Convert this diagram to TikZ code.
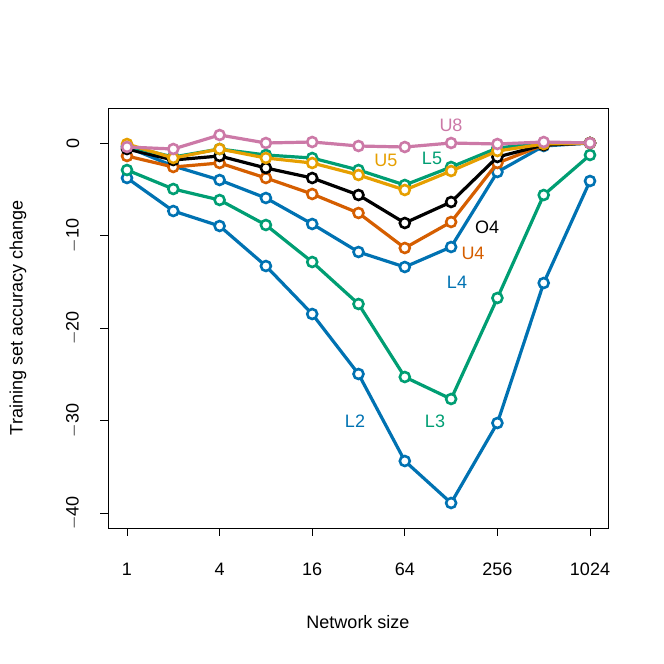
\documentclass[tikz,border=0pt]{standalone}
\usepackage{fontspec}
\setmainfont{Liberation Sans}
\begin{document}
\begin{tikzpicture}[x=1pt,y=-1pt,
  ser/.style={line width=3.2pt},
  pt/.style={circle,draw,line width=2.6pt,fill=white,minimum size=10pt,inner sep=0pt},
  lab/.style={font=\fontsize{18}{21}\selectfont},
  tk/.style={line width=0.8pt}]
\definecolor{cb}{HTML}{0072B2}\definecolor{cg}{HTML}{009E73}
\definecolor{cv}{HTML}{D55E00}\definecolor{co}{HTML}{E69F00}
\definecolor{cp}{HTML}{CC79A7}
\useasboundingbox (0,0) rectangle (664,664);
\draw[line width=0.8pt] (108,108) rectangle (608,528);
% x ticks
\foreach \k/\t in {0/1,2/4,4/16,6/64,8/256,10/1024}{
  \draw[tk] (127+46.3*\k,528) -- (127+46.3*\k,536);
  \node[lab] at (127+46.3*\k,569) {\t};}
% y ticks
\foreach \v/\t in {0/0,10/$-$10,20/$-$20,30/$-$30,40/$-$40}{
  \draw[tk] (108,143+9.25*\v) -- (100,143+9.25*\v);
  \node[lab,rotate=90] at (73,143+9.25*\v) {\t};}
\node[lab] at (358,622) {Network size};
\node[lab,rotate=90] at (18,318) {Training set accuracy change};
\foreach \c/\ys in {
 cb/{178,211,226,266,314,374,461,503,423,283,181},
 cg/{170,189,200,225,262,304,377,399,298,195,155},
 cb/{147,166,180,198,224,252,267,247,172,146,143},
 cv/{156,167,163,178,194,213,248,222,163,145,143},
 black/{149,160,156,168,178,195,223,202,157,145,143},
 cg/{146,157,149,155,158,170,185,167,148,143,143},
 co/{144,158,149,158,163,175,190,171,151,144,143},
 cp/{147,149,135,143,142,146,147,143,144,142,143}}{
  \foreach \y [count=\i from 0] in \ys {
    \coordinate (p\i) at (127+46.3*\i,\y);}
  \draw[ser,\c] (p0)--(p1)--(p2)--(p3)--(p4)--(p5)--(p6)--(p7)--(p8)--(p9)--(p10);
  \foreach \i in {0,...,10}{\node[pt,draw=\c] at (p\i) {};}
}
\node[lab,text=cp] at (451,125) {U8};
\node[lab,text=co] at (386,160) {U5};
\node[lab,text=cg] at (432,158) {L5};
\node[lab] at (487,227) {O4};
\node[lab,text=cv] at (473,253) {U4};
\node[lab,text=cb] at (457,282) {L4};
\node[lab,text=cb] at (355,421) {L2};
\node[lab,text=cg] at (435,421) {L3};
\end{tikzpicture}
\end{document}
